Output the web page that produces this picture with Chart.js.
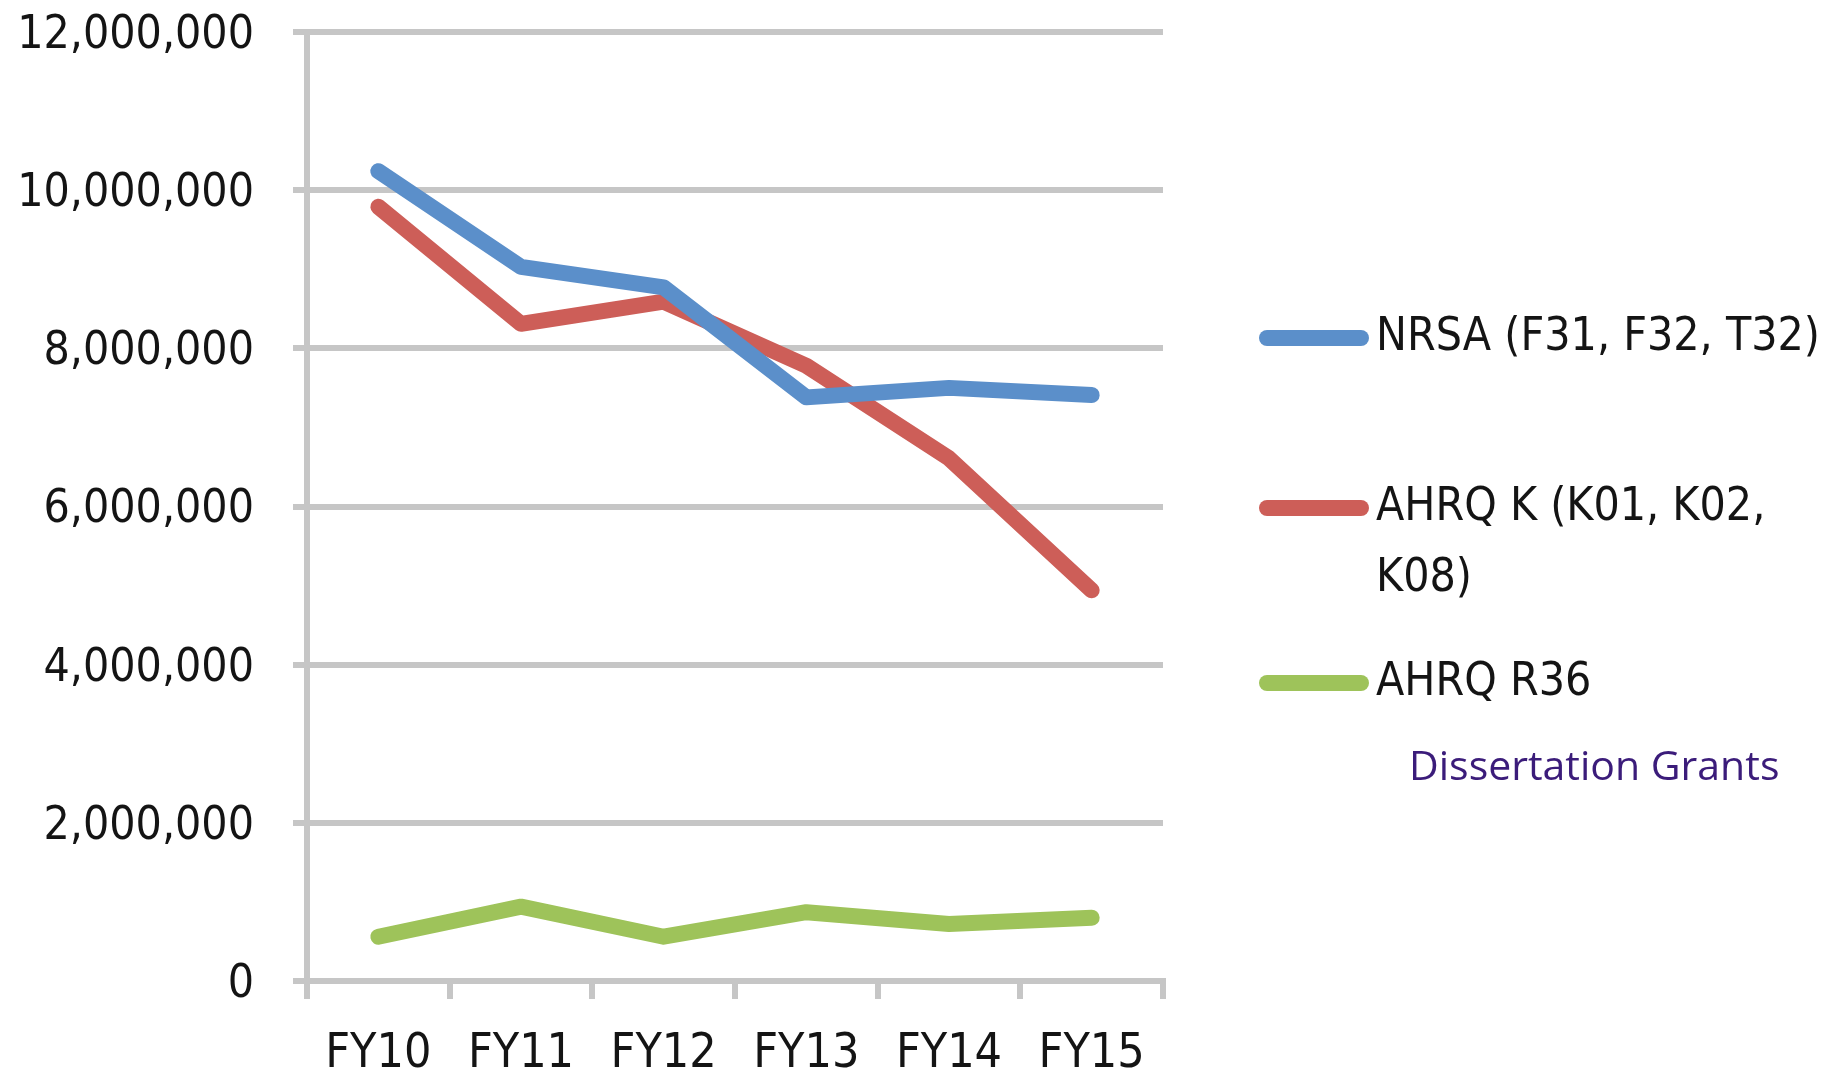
<!DOCTYPE html>
<html>
<head>
<meta charset="utf-8">
<script src="https://cdn.jsdelivr.net/npm/chart.js@4"></script>
<style>
  body { margin: 0; background: #fff; }
</style>
</head>
<body>
<canvas id="chart" width="1831" height="1071"></canvas>
<script>
const years = ['FY10', 'FY11', 'FY12', 'FY13', 'FY14', 'FY15']
const nrsa = [10240000, 9030000, 8770000, 7380000, 7500000, 7410000]
const ahrqK = [9790000, 8310000, 8590000, 7780000, 6610000, 4940000]
const ahrqR36 = [560000, 940000, 560000, 870000, 720000, 800000]
const yTicks = [0, 2000000, 4000000, 6000000, 8000000, 10000000, 12000000]
const legendLines = [['NRSA (F31, F32, T32)'], ['AHRQ K (K01, K02,', 'K08)'], ['AHRQ R36']]
const note = 'Dissertation Grants'

const gridColor = '#c6c6c6'
const textColor = '#141414'
const font = '"DejaVu Sans Condensed", "DejaVu Sans", sans-serif'

// legend drawn by hand, the built-in one can't wrap a label onto two lines
const sideLegend = {
  id: 'sideLegend',
  afterDraw(chart) {
    const ctx = chart.ctx
    const rows = [338, 508, 683]
    ctx.save()
    ctx.font = '46px ' + font
    ctx.textBaseline = 'middle'
    ctx.fillStyle = textColor
    chart.data.datasets.forEach((ds, i) => {
      ctx.strokeStyle = ds.borderColor
      ctx.lineWidth = 16
      ctx.lineCap = 'round'
      ctx.beginPath()
      ctx.moveTo(1267, rows[i])
      ctx.lineTo(1361, rows[i])
      ctx.stroke()
      legendLines[i].forEach((t, j) => ctx.fillText(t, 1376, rows[i] + j * 71))
    })
    ctx.font = '41px "Open Sans", sans-serif'
    ctx.fillStyle = '#3b1c7a'
    ctx.fillText(note, 1409, 768)
    ctx.restore()
  }
}

const lineStyle = {
  borderWidth: 16,
  pointRadius: 0,
  tension: 0,
  borderCapStyle: 'round',
  borderJoinStyle: 'round',
  fill: false
}

new Chart(document.getElementById('chart'), {
  type: 'line',
  data: {
    labels: years,
    datasets: [
      { label: legendLines[0].join(' '), data: nrsa, borderColor: '#5b8fca', ...lineStyle },
      { label: legendLines[1].join(' '), data: ahrqK, borderColor: '#cd5e58', ...lineStyle },
      { label: legendLines[2].join(' '), data: ahrqR36, borderColor: '#9ec35a', ...lineStyle }
    ]
  },
  plugins: [sideLegend],
  options: {
    responsive: false,
    animation: false,
    devicePixelRatio: 1,
    layout: { padding: { left: 0, right: 668, top: 32, bottom: 0 } },
    plugins: {
      legend: { display: false },
      tooltip: { enabled: false }
    },
    scales: {
      x: {
        offset: true,
        afterFit: scale => { scale.height = 90 },
        grid: {
          offset: true,
          drawOnChartArea: false,
          drawTicks: true,
          tickLength: 18,
          color: gridColor,
          lineWidth: 6
        },
        border: { display: true, color: gridColor, width: 6 },
        ticks: {
          padding: 27,
          color: textColor,
          font: { family: font, size: 48 }
        }
      },
      y: {
        min: 0,
        max: 12000000,
        afterFit: scale => {
          scale.width = 307
          // tick padding would otherwise push the top of the plot down
          scale.paddingTop = 0
          scale.paddingBottom = 0
        },
        afterBuildTicks: scale => { scale.ticks = yTicks.map(v => ({ value: v })) },
        grid: {
          color: gridColor,
          lineWidth: 6,
          tickLength: 14
        },
        border: { display: true, color: gridColor, width: 6 },
        ticks: {
          padding: 39,
          labelOffset: 4,
          color: textColor,
          font: { family: font, size: 46 },
          callback: v => v.toLocaleString('en-US')
        }
      }
    }
  }
})
</script>
</body>
</html>
